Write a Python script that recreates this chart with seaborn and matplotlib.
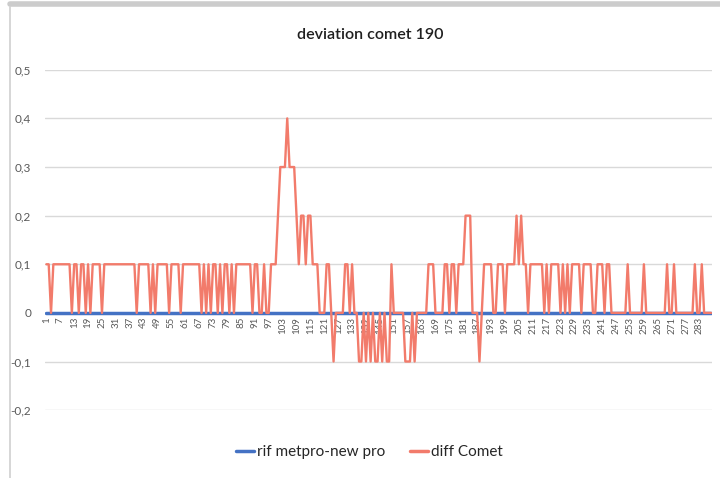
import numpy as np
import pandas as pd
import matplotlib
matplotlib.use("Agg")
import matplotlib.pyplot as plt
import seaborn as sns
from matplotlib.lines import Line2D

# valori (288 punti)
diff_comet = [
    .1, .1, 0, .1, .1, .1, .1, .1, .1, .1, .1, 0,
    .1, .1, 0, .1, .1, 0, .1, 0, .1, .1, .1, .1,
    0, .1, .1, .1, .1, .1, .1, .1, .1, .1, .1, .1,
    .1, .1, .1, 0, .1, .1, .1, .1, .1, 0, .1, 0,
    .1, .1, .1, .1, .1, 0, .1, .1, .1, .1, 0, .1,
    .1, .1, .1, .1, .1, .1, .1, 0, .1, 0, .1, 0,
    .1, .1, 0, .1, 0, .1, .1, 0, .1, 0, .1, .1,
    .1, .1, .1, .1, .1, 0, .1, .1, 0, 0, .1, 0,
    0, .1, .1, .1, .2, .3, .3, .3, .4, .3, .3, .3,
    .2, .1, .2, .2, .1, .2, .2, .1, .1, .1, 0, 0,
    0, .1, .1, 0, -.1, 0, 0, 0, 0, .1, .1, 0,
    .1, 0, 0, -.1, -.1, 0, -.1, 0, -.1, 0, -.1, -.1,
    0, -.1, 0, -.1, -.1, .1, 0, 0, 0, 0, 0, -.1,
    -.1, -.1, 0, -.1, 0, 0, 0, 0, 0, .1, .1, .1,
    0, 0, 0, 0, .1, .1, 0, .1, .1, 0, .1, .1,
    .1, .2, .2, .2, 0, 0, 0, -.1, 0, .1, .1, .1,
    .1, 0, 0, .1, .1, .1, 0, .1, .1, .1, .1, .2,
    .1, .2, .1, .1, 0, .1, .1, .1, .1, .1, .1, 0,
    .1, 0, .1, .1, .1, .1, 0, .1, 0, .1, 0, .1,
    .1, .1, .1, 0, .1, .1, .1, .1, 0, 0, .1, .1,
    .1, 0, .1, .1, 0, 0, 0, 0, 0, 0, 0, .1,
    0, 0, 0, 0, 0, 0, .1, 0, 0, 0, 0, 0,
    0, 0, 0, 0, .1, 0, 0, .1, 0, 0, 0, 0,
    0, 0, 0, 0, .1, 0, 0, .1, 0, 0, 0, 0,
]
punti = list(range(1, len(diff_comet) + 1))
rif_metpro = [0.0] * len(diff_comet)

y_ticks = [-0.2, -0.1, 0, 0.1, 0.2, 0.3, 0.4, 0.5]
y_labels = ["-0,2", "-0,1", "0", "0,1", "0,2", "0,3", "0,4", "0,5"]
x_ticks = list(range(1, 288, 6))

df = pd.DataFrame({"punto": punti, "rif": rif_metpro, "diff": diff_comet})

sns.set_style("white")
plt.rcParams["font.family"] = ["Lato", "DejaVu Sans"]

fig = plt.figure(figsize=(7.2, 4.78), dpi=100)
ax = fig.add_axes([0.0625, 0.142, 0.927, 0.712])

sns.lineplot(data=df, x="punto", y="rif", ax=ax, color="#4472C4", linewidth=2.5,
             label="rif metpro-new pro")
sns.lineplot(data=df, x="punto", y="diff", ax=ax, color="#F27B6B", linewidth=1.7,
             label="diff Comet")

ax.set_ylim(-0.2, 0.5)
ax.set_xlim(0.4, 288.6)
for s in ax.spines.values():
    s.set_visible(False)
# asse delle categorie sulla linea dello zero
ax.spines["bottom"].set_position(("data", 0))

ax.set_yticks(y_ticks)
ax.set_yticklabels(y_labels, fontsize=8.5, color="#595959")
ax.set_xticks(x_ticks)
ax.set_xticklabels([str(t) for t in x_ticks], fontsize=7, color="#595959")
ax.tick_params(axis="both", length=0)
ax.tick_params(axis="x", pad=3, labelrotation=90)
ax.tick_params(axis="y", pad=10)
ax.yaxis.grid(True, color="#D9D9D9", linewidth=1)
ax.xaxis.grid(False)
ax.set_xlabel("")
ax.set_ylabel("")

ax.legend_.remove()
handles = [Line2D([], [], color="#4472C4", linewidth=2.5),
           Line2D([], [], color="#F27B6B", linewidth=2.5)]
fig.legend(handles, ["rif metpro-new pro", "diff Comet"], loc="center",
           bbox_to_anchor=(0.513, 0.054), ncol=2, frameon=False, fontsize=11,
           handlelength=1.2, handletextpad=0.2, columnspacing=1.6,
           labelcolor="#262626")

fig.text(0.514, 0.927, "deviation comet 190", ha="center", va="center",
         fontsize=11.5, fontweight="semibold", color="#1f1f1f")

# cornice grigia del grafico
fig.add_artist(Line2D([0.014, 0.014], [0, 0.985], color="#D0D0D0", linewidth=1.2,
                      transform=fig.transFigure))
fig.add_artist(Line2D([0.014, 1], [0.992, 0.992], color="#CCCCCC", linewidth=4,
                      transform=fig.transFigure))

fig.savefig("out.png", dpi=100)
